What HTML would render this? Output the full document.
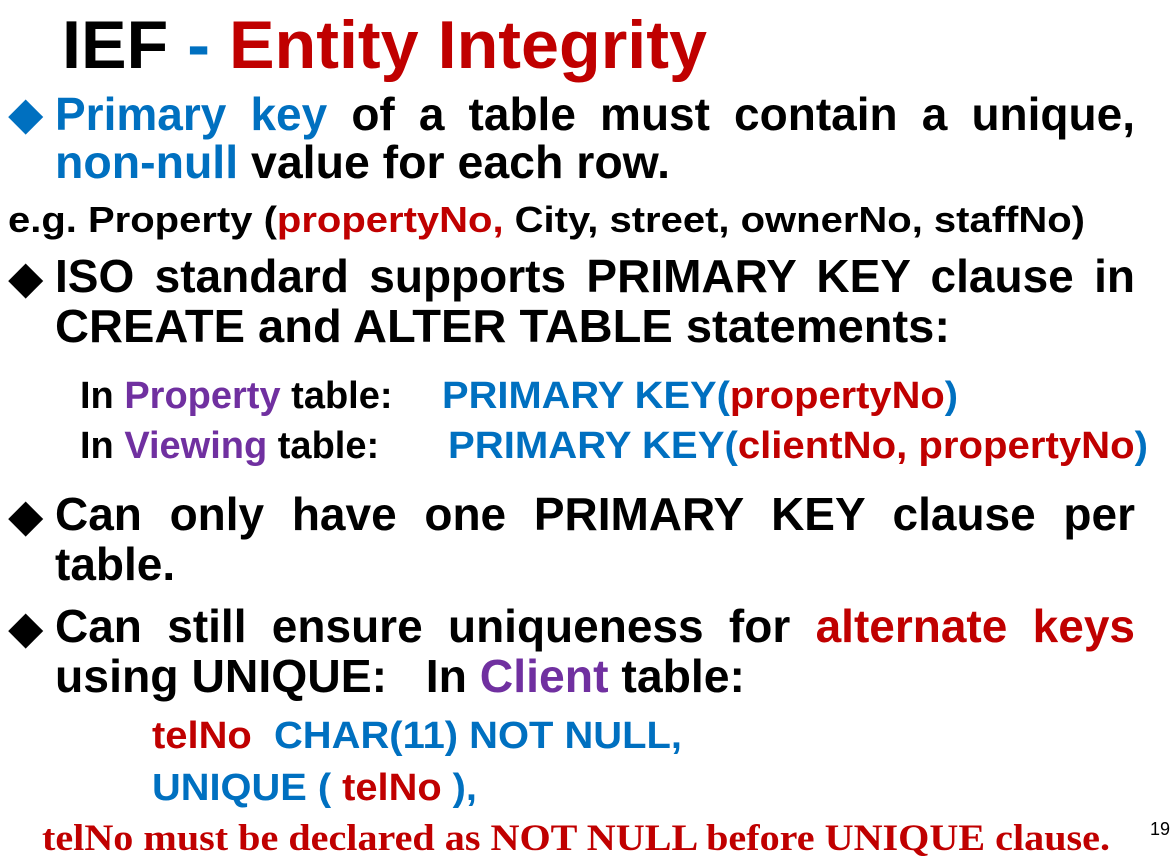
<!DOCTYPE html>
<html><head><meta charset="utf-8"><style>
html,body{margin:0;padding:0;background:#fff;width:1171px;height:864px;overflow:hidden}
body{position:relative;font-family:"Liberation Sans",Arial,sans-serif;font-weight:bold;color:#000}
.l{position:absolute;white-space:nowrap;line-height:1;transform-origin:0 0}
.j{text-align:justify;text-align-last:justify;white-space:normal}
.b{color:#0070C0}.r{color:#C00000}.p{color:#7030A0}
.d{position:absolute;font-size:46px;line-height:1;font-family:"DejaVu Sans",sans-serif}
</style></head><body>
<div class="l fit" style="left:62px;top:11px;font-size:68px" data-x="645">IEF <span class="b">-</span> <span class="r">Entity Integrity</span></div>

<div class="d b" style="left:8px;top:90px">◆</div>
<div class="l j" style="left:55px;top:91px;font-size:46px;width:1080px"><span class="b">Primary key</span> of a table must contain a unique,</div>
<div class="l fit" style="left:55px;top:139px;font-size:46px" data-x="615"><span class="b">non-null</span> value for each row.</div>

<div class="l fit" style="left:8px;top:202px;font-size:36px" data-x="1077">e.g. Property (<span class="r">propertyNo,</span> City, street, ownerNo, staffNo)</div>

<div class="d" style="left:8px;top:254px">◆</div>
<div class="l j" style="left:55px;top:253px;font-size:46px;width:1080px">ISO standard supports PRIMARY KEY clause in</div>
<div class="l fit" style="left:55px;top:303px;font-size:46px" data-x="895">CREATE and ALTER TABLE statements:</div>

<div class="l" style="left:80px;top:377px;font-size:38px">In <span class="p">Property</span> table:</div>
<div class="l fit" style="left:442px;top:377px;font-size:38px" data-x="516"><span class="b">PRIMARY KEY(</span><span class="r">propertyNo</span><span class="b">)</span></div>
<div class="l" style="left:80px;top:427px;font-size:38px">In <span class="p">Viewing</span> table:</div>
<div class="l fit" style="left:448px;top:427px;font-size:38px" data-x="700"><span class="b">PRIMARY KEY(</span><span class="r">clientNo, propertyNo</span><span class="b">)</span></div>

<div class="d" style="left:8px;top:492px">◆</div>
<div class="l j" style="left:55px;top:491px;font-size:46px;width:1080px">Can only have one PRIMARY KEY clause per</div>
<div class="l" style="left:55px;top:541px;font-size:46px">table.</div>

<div class="d" style="left:8px;top:604px">◆</div>
<div class="l j" style="left:55px;top:603px;font-size:46px;width:1080px">Can still ensure uniqueness for <span class="r">alternate keys</span></div>
<div class="l fit" style="left:55px;top:653px;font-size:46px" data-x="690">using UNIQUE:&nbsp;&nbsp; In <span class="p">Client</span> table:</div>

<div class="l fit" style="left:152px;top:717px;font-size:38px" data-x="530"><span class="r">telNo</span>&nbsp; <span class="b">CHAR(11) NOT NULL,</span></div>
<div class="l fit" style="left:152px;top:769px;font-size:38px" data-x="325"><span class="b">UNIQUE (</span> <span class="r">telNo</span> <span class="b">),</span></div>

<div class="l fit r" style="left:42px;top:820px;font-size:37px;font-family:'Liberation Serif',serif" data-x="1068">telNo must be declared as NOT NULL before UNIQUE clause.</div>
<div class="l" style="left:1150px;top:820px;font-size:18px;font-weight:normal">19</div>
<script>
document.querySelectorAll('.fit').forEach(function(e){
  var t=parseFloat(e.getAttribute('data-x'));var w=e.getBoundingClientRect().width;
  if(w>0&&t)e.style.transform='scaleX('+(t/w)+')';
});
</script>
</body></html>
